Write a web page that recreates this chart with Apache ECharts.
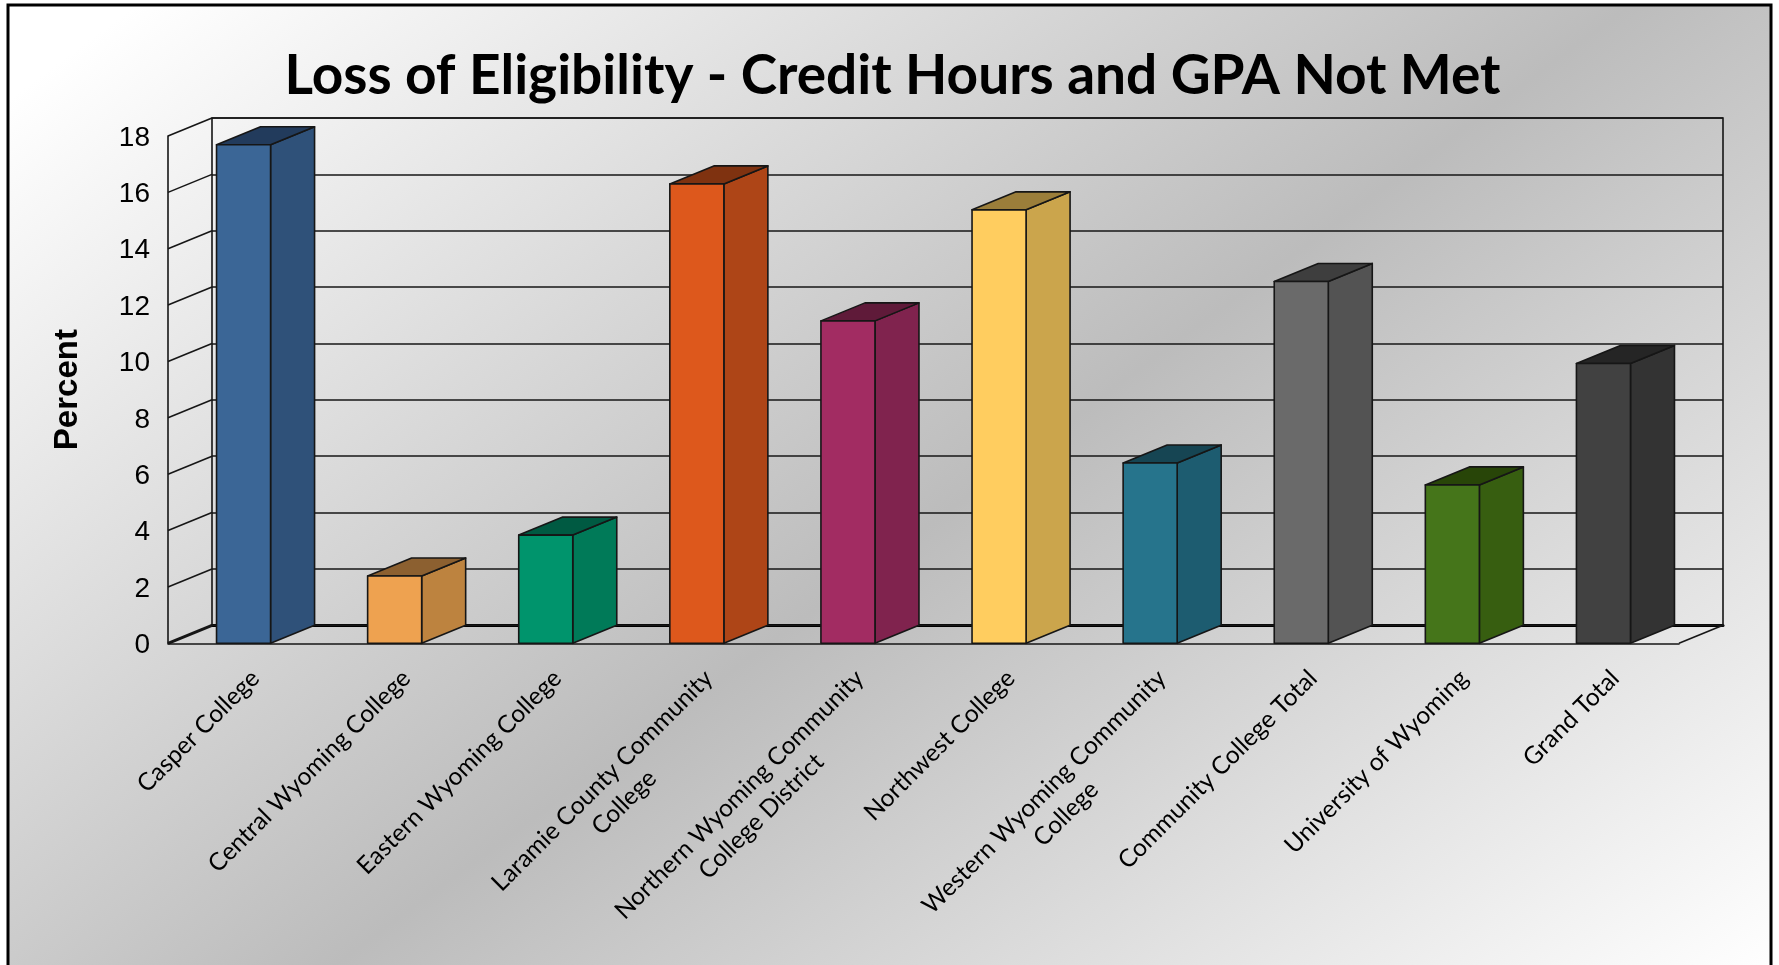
<!DOCTYPE html>
<html>
<head>
<meta charset="utf-8">
<style>html,body{margin:0;padding:0;background:#fff}#c{width:1779px;height:965px}</style>
<script src="https://cdn.jsdelivr.net/npm/echarts@6/dist/echarts.min.js"></script>
</head>
<body>
<div id="c"></div>
<script>
const categories = [
  "Casper College",
  "Central Wyoming College",
  "Eastern Wyoming College",
  "Laramie County Community\nCollege",
  "Northern Wyoming Community\nCollege District",
  "Northwest College",
  "Western Wyoming Community\nCollege",
  "Community College Total",
  "University of Wyoming",
  "Grand Total"
];
const percentValues = [17.69, 2.39, 3.84, 16.3, 11.44, 15.38, 6.4, 12.84, 5.62, 9.93];
const yTicks = [0, 2, 4, 6, 8, 10, 12, 14, 16, 18];
const titleText = "Loss of Eligibility - Credit Hours and GPA Not Met";
const yAxisTitle = "Percent";
const frontColors = ["#3b6696","#eea250","#00946c","#dd581c","#a22c62","#ffcd5f","#26748c","#6a6a6a","#45751a","#414141"];
const sideColors  = ["#2f5179","#bd833f","#007a58","#ae4517","#80234e","#cba54c","#1d5c70","#535353","#375e10","#333333"];
const topColors   = ["#223b5c","#8c6030","#005a42","#7f3210","#5f1a39","#9b7e3a","#164553","#3e3e3e","#284508","#252525"];

const W = 1779, H = 965;
const front = {left:168, top:136, right:1679, bottom:643.3};
const depthX = 44, depthY = -18;
const barRatio = 54/151;
const edge = "#161616";
const thin = 1.6;
const labelFamily = "Lato", labelSize = 24.5, labelLine = 31;

const chart = echarts.init(document.getElementById('c'), null, {renderer:'canvas', width:W, height:H});

// background frame and its diagonal gradient (dark band from top right to lower left)
const fx=8, fy=5, fw=1763, fh=1010;
const ux=0.5954, uy=0.8034, gcx=987, gcy=482, tStart=890, tEnd=860;
const bgGrad = new echarts.graphic.LinearGradient(
  gcx-tStart*ux, gcy-tStart*uy, gcx+tEnd*ux, gcy+tEnd*uy,
  [{offset:0,color:'#ffffff'},{offset:tStart/(tStart+tEnd),color:'#bcbcbc'},{offset:1,color:'#ffffff'}], true);

// keeps wrapped second lines centred under the first line in the rotated labels
const mctx = document.createElement('canvas').getContext('2d');
mctx.font = labelSize+"px "+labelFamily;
const rich = {};
const labelBase = {fontFamily:labelFamily,fontSize:labelSize,color:'#000',lineHeight:labelLine};
const labelText = categories.map((c,i)=>{
  const p = c.split("\n");
  if (p.length<2) return c;
  const pad = Math.max(0,(mctx.measureText(p[0]).width-mctx.measureText(p[1]).width)/2);
  rich['s'+i] = Object.assign({padding:[0,pad,0,0]},labelBase);
  rich['f'+i] = Object.assign({},labelBase);
  return `{f${i}|${p[0]}}\n{s${i}|${p[1]}}`;
});

function seg(x1,y1,x2,y2,w){return {type:'line',shape:{x1,y1,x2,y2},style:{stroke:edge,lineWidth:w||thin},silent:true};}

chart.setOption({
  animation:false,
  backgroundColor:'#fff',
  title:{text:titleText,left:887.5,top:44,textAlign:'center',
    textStyle:{fontFamily:'Lato',fontWeight:'bold',fontSize:55,color:'#000'}},
  graphic:[{type:'rect',z:-10,silent:true,shape:{x:fx,y:fy,width:fw,height:fh},
    style:{fill:bgGrad,stroke:'#000',lineWidth:3}}],
  grid:[
    {left:front.left,top:front.top,width:front.right-front.left,height:front.bottom-front.top,containLabel:false},
    {left:front.left+depthX,top:front.top+depthY,width:front.right-front.left,height:front.bottom-front.top,
      show:true,borderColor:edge,borderWidth:thin,backgroundColor:'transparent',z:1}
  ],
  xAxis:[
    {type:'category',gridIndex:0,data:categories,axisTick:{show:false},
      axisLine:{lineStyle:{color:edge,width:thin}},
      axisLabel:Object.assign({interval:0,rotate:45,margin:19.3,padding:[1,0,0,0],verticalAlign:'top',align:'right',rich,
        formatter:(v,i)=>labelText[i]},labelBase)},
    {type:'category',gridIndex:1,data:categories,axisTick:{show:false},axisLabel:{show:false},
      axisLine:{lineStyle:{color:'#000',width:3}}}
  ],
  yAxis:[
    {type:'value',gridIndex:0,min:0,max:18,interval:2,name:yAxisTitle,nameLocation:'middle',nameRotate:90,nameGap:84,
      nameTextStyle:{fontFamily:'Liberation Sans',fontWeight:'bold',fontSize:33,color:'#000'},
      axisLine:{show:true,lineStyle:{color:edge,width:thin}},axisTick:{show:false},splitLine:{show:false},
      axisLabel:{margin:18,verticalAlign:'top',lineHeight:4,fontFamily:'Liberation Sans',fontSize:28,color:'#000',
        formatter:v=>yTicks.includes(v)?String(v):''}},
    {type:'value',gridIndex:1,min:0,max:18,interval:2,axisLine:{show:false},axisTick:{show:false},axisLabel:{show:false},
      splitLine:{show:true,lineStyle:{color:edge,width:thin}}}
  ],
  series:[
    {name:'walls',type:'custom',xAxisIndex:0,yAxisIndex:0,z:2,silent:true,clip:false,
      data:yTicks.map(v=>[0,v]),
      renderItem:(p,api)=>{
        const y = api.coord([0,api.value(1)])[1];
        const x0 = p.coordSys.x, x1 = x0+p.coordSys.width;
        const isFloor = api.value(1)===0;
        const kids=[seg(x0,y,x0+depthX,y+depthY,isFloor?3:thin)];
        if(isFloor) kids.push(seg(x1,y,x1+depthX,y+depthY));
        return {type:'group',children:kids};
      }},
    {name:'Percent',type:'custom',xAxisIndex:0,yAxisIndex:0,z:3,silent:true,clip:false,
      data:percentValues.map((v,i)=>[i,v]),
      renderItem:(p,api)=>{
        const i=api.value(0);
        const t=api.coord([i,api.value(1)]), b=api.coord([i,0]);
        const w=api.size([1,0])[0]*barRatio;
        const l=t[0]-w/2, r=t[0]+w/2, yt=t[1], yb=b[1];
        const st=c=>({fill:c,stroke:edge,lineWidth:thin,lineJoin:'round'});
        return {type:'group',children:[
          {type:'polygon',shape:{points:[[r,yt],[r+depthX,yt+depthY],[r+depthX,yb+depthY],[r,yb]]},style:st(sideColors[i])},
          {type:'polygon',shape:{points:[[l,yt],[l+depthX,yt+depthY],[r+depthX,yt+depthY],[r,yt]]},style:st(topColors[i])},
          {type:'rect',shape:{x:l,y:yt,width:w,height:yb-yt},style:st(frontColors[i])}
        ]};
      }}
  ]
});
</script>
</body>
</html>
